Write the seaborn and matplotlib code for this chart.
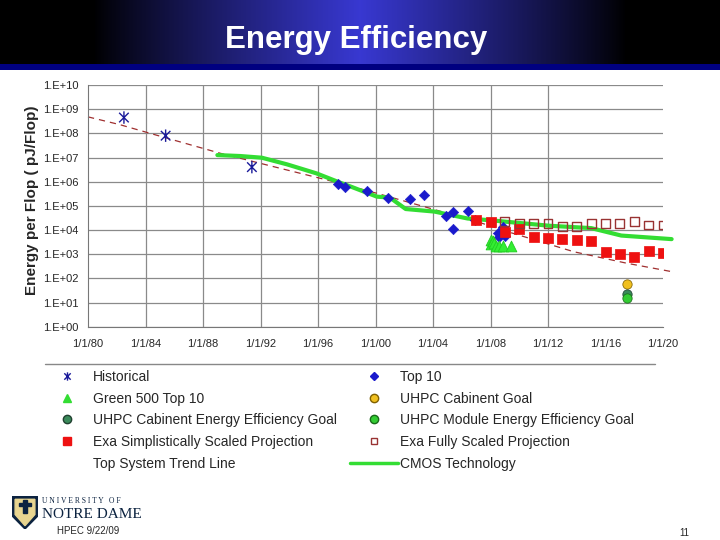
import numpy as np
import matplotlib.pyplot as plt
import seaborn as sns
from matplotlib.lines import Line2D
from matplotlib.patches import Polygon, Rectangle
from matplotlib.path import Path
from matplotlib.ticker import FixedLocator, FuncFormatter, NullLocator

# x axis ticks (dates as decimal years)
tick_years = [1980, 1984, 1988, 1992, 1996, 2000, 2004, 2008, 2012, 2016, 2020]
tick_labels = ["1/1/80", "1/1/84", "1/1/88", "1/1/92", "1/1/96", "1/1/00",
               "1/1/04", "1/1/08", "1/1/12", "1/1/16", "1/1/20"]

# energy per flop, pJ/Flop
hist_x = [1982.5, 1985.4, 1991.4]
hist_y = [4.5e8, 8.0e7, 4.0e6]

top10_x = [1997.4, 1997.9, 1999.4, 2000.9, 2002.4, 2003.4, 2004.9, 2005.4, 2005.4,
           2006.4, 2006.9, 2008.5, 2008.6, 2008.7, 2008.9, 2009.0]
top10_y = [7.8e5, 6.2e5, 4.1e5, 2.2e5, 1.9e5, 2.8e5, 3.8e4, 5.8e4, 1.1e4,
           6.3e4, 2.5e4, 7.2e3, 5.0e3, 8.5e3, 1.3e4, 5.8e3]

green500_x = [2008.0, 2008.0, 2008.2, 2008.25, 2008.4, 2008.6, 2008.9, 2009.45]
green500_y = [3.9e3, 2.6e3, 3.5e3, 2.8e3, 2.2e3, 2.2e3, 2.2e3, 2.2e3]

goal_x = [2017.5]
cab_goal_y = [59]
cab_ee_goal_y = [22]
module_goal_y = [15]

exa_simple_x = [2007, 2008, 2009, 2010, 2011, 2012, 2013, 2014, 2015, 2016, 2017, 2018, 2019, 2020]
exa_simple_y = [2.5e4, 2.2e4, 8.1e3, 1.1e4, 5.2e3, 4.8e3, 4.2e3, 3.9e3, 3.5e3,
                1.2e3, 1.0e3, 7.6e2, 1.35e3, 1.1e3]

exa_full_x = [2009, 2010, 2011, 2012, 2013, 2014, 2015, 2016, 2017, 2018, 2019, 2020]
exa_full_y = [2.2e4, 1.8e4, 1.8e4, 1.8e4, 1.4e4, 1.4e4, 1.9e4, 1.8e4, 1.8e4, 2.2e4, 1.6e4, 1.6e4]

trend_x = [1980.0, 1982.2, 1985.5, 1989.2, 1992.45, 1997.1, 2000.1, 2003.8,
           2007.3, 2009.2, 2013.8, 2017.5, 2020.6]
trend_y = [4.8e8, 2.3e8, 6.3e7, 1.5e7, 4.9e6, 1.0e6, 3.3e5, 7.9e4,
           2.0e4, 8.5e3, 1.26e3, 4.2e2, 1.9e2]

cmos_x = [1989.0, 1990.6, 1992.1, 1993.85, 1995.9, 1997.5, 1998.3, 2000.1, 2001.0,
          2002.1, 2004.1, 2006.4, 2008.1, 2012.1, 2015.0, 2017.1, 2020.6]
cmos_y = [1.26e7, 1.15e7, 9.8e6, 5.2e6, 2.2e6, 9.3e5, 6.2e5, 2.4e5, 2.2e5,
          7.4e4, 5.8e4, 3.0e4, 2.5e4, 1.5e4, 1.2e4, 5.9e3, 4.2e3]

sns.set_style("white")
plt.rcParams['font.family'] = ['Liberation Sans', 'DejaVu Sans']

# excel style asterisk: an X with a vertical bar
ast = Path([(-1, -1), (1, 1), (-1, 1), (1, -1), (0, -1.3), (0, 1.3)],
           [Path.MOVETO, Path.LINETO, Path.MOVETO, Path.LINETO, Path.MOVETO, Path.LINETO])

fig = plt.figure(figsize=(7.2, 5.4), dpi=100)

# title band
hdr = fig.add_axes([0, 1 - 64 / 540, 1, 64 / 540])
xs = np.linspace(0, 1, 720)
glow = np.clip(1 - np.abs(xs - 0.5) / 0.37, 0, 1) ** 0.9
band = np.zeros((2, 720, 3))
band[..., 0] = 0.22 * glow
band[..., 1] = 0.22 * glow
band[..., 2] = 0.82 * glow
hdr.imshow(band, aspect='auto', extent=[0, 1, 0, 1])
hdr.axis('off')
fig.add_artist(Rectangle((0, 1 - 70 / 540), 1, 6 / 540, transform=fig.transFigure,
                         color='#000080', lw=0))
fig.text(0.495, 1 - 40 / 540, "Energy Efficiency", color='white', fontsize=22.5,
         fontweight='bold', ha='center', va='center')

ax = fig.add_axes([88 / 720, 1 - 326.7 / 540, 575 / 720, 241.7 / 540])

sns.lineplot(x=trend_x, y=trend_y, ax=ax, color='#a03030', lw=0.9,
             linestyle=(0, (5, 4)), clip_on=False, zorder=2)
sns.lineplot(x=cmos_x, y=cmos_y, ax=ax, color='#33dd33', lw=3,
             clip_on=False, zorder=3)
sns.scatterplot(x=hist_x, y=hist_y, ax=ax, marker=ast, s=80, color='#1a1a9a',
                facecolor='none', edgecolor='#1a1a9a', linewidth=1, zorder=4)
sns.scatterplot(x=top10_x, y=top10_y, ax=ax, marker='D', s=28, color='#1a1acc',
                edgecolor='#1a1acc', zorder=4)
sns.scatterplot(x=green500_x, y=green500_y, ax=ax, marker='^', s=60, color='#33ee33',
                edgecolor='#22cc22', zorder=4)
sns.scatterplot(x=exa_simple_x, y=exa_simple_y, ax=ax, marker='s', s=42, color='#ee1111',
                edgecolor='#ee1111', zorder=5)
sns.scatterplot(x=exa_full_x, y=exa_full_y, ax=ax, marker='s', s=40, color='#993333',
                facecolor='none', edgecolor='#993333', linewidth=1, zorder=5)
sns.scatterplot(x=goal_x, y=cab_goal_y, ax=ax, s=45, color='#f0c020',
                edgecolor='#806000', zorder=5)
sns.scatterplot(x=goal_x, y=cab_ee_goal_y, ax=ax, s=45, color='#3a8a5a',
                edgecolor='#204030', zorder=5)
sns.scatterplot(x=goal_x, y=module_goal_y, ax=ax, s=45, color='#33cc33',
                edgecolor='#1a6a1a', zorder=6)

ax.set_yscale('log')
ax.set_ylim(1, 1e10)
ax.set_xlim(1980, 2020)
ax.yaxis.set_major_locator(FixedLocator([10.0 ** k for k in range(11)]))
ax.yaxis.set_minor_locator(NullLocator())
ax.yaxis.set_major_formatter(FuncFormatter(lambda v, p: f"1.E+{int(round(np.log10(v))):02d}"))
ax.set_xticks(tick_years, tick_labels)
ax.grid(True, color='#8a8a8a', lw=0.9)
for i, yr in enumerate(tick_years):
    if yr in (1980, 2016, 2020):
        ax.xaxis.get_gridlines()[i].set_visible(False)
for side in ('top', 'right'):
    ax.spines[side].set_visible(False)
for side in ('left', 'bottom'):
    ax.spines[side].set_color('#777777')
ax.tick_params(axis='both', length=3, color='#777777', labelsize=8, pad=4)
ax.tick_params(axis='x', pad=6)
ax.set_xlabel("")
ax.set_ylabel("")

fig.text(32 / 720, 1 - 200 / 540, "Energy per Flop ( pJ/Flop)", rotation=90,
         fontsize=11, fontweight='bold', ha='center', va='center')

# legend below the chart
fig.add_artist(Line2D([45 / 720, 655 / 720], [1 - 364 / 540] * 2, color='#888888', lw=1))
left_handles = [
    Line2D([], [], ls='none', marker=ast, ms=6, mec='#1a1a9a', mfc='none', mew=1),
    Line2D([], [], ls='none', marker='^', ms=6, color='#33dd33'),
    Line2D([], [], ls='none', marker='o', ms=6, mfc='#3a8a5a', mec='#204030'),
    Line2D([], [], ls='none', marker='s', ms=5.5, color='#ee1111'),
    Line2D([], [], color='none'),
]
left_labels = ["Historical", "Green 500 Top 10", "UHPC Cabinent Energy Efficiency Goal",
               "Exa Simplistically Scaled Projection", "Top System Trend Line"]
right_handles = [
    Line2D([], [], ls='none', marker='D', ms=4.5, color='#1a1acc'),
    Line2D([], [], ls='none', marker='o', ms=6, mfc='#f0c020', mec='#806000'),
    Line2D([], [], ls='none', marker='o', ms=6, mfc='#33cc33', mec='#1a6a1a'),
    Line2D([], [], ls='none', marker='s', ms=5, mfc='none', mec='#993333'),
    Line2D([], [], color='#33dd33', lw=2.5),
]
right_labels = ["Top 10", "UHPC Cabinent Goal", "UHPC Module Energy Efficiency Goal",
                "Exa Fully Scaled Projection", "CMOS Technology"]
for hs, ls, x0 in ((left_handles, left_labels, 43), (right_handles, right_labels, 350)):
    fig.legend(hs, ls, loc='upper left', bbox_to_anchor=(x0 / 720, 1 - 370 / 540),
               frameon=False, fontsize=10, handlelength=3.45, handletextpad=0.15,
               labelspacing=0.55, borderpad=0, borderaxespad=0)

# footer
shield = fig.add_axes([12 / 720, 1 - 529 / 540, 26 / 720, 33 / 540])
shield.add_patch(Polygon([(0, 1), (1, 1), (1, 0.4), (0.5, 0), (0, 0.4)], color='#0c2340'))
shield.add_patch(Polygon([(0.12, 0.9), (0.88, 0.9), (0.88, 0.44), (0.5, 0.1), (0.12, 0.44)],
                         color='#e8d590'))
shield.add_patch(Rectangle((0.44, 0.5), 0.12, 0.38, color='#0c2340'))
shield.add_patch(Rectangle((0.28, 0.7), 0.44, 0.08, color='#0c2340'))
shield.set_xlim(0, 1)
shield.set_ylim(0, 1)
shield.axis('off')
fig.text(42 / 720, 1 - 501 / 540, "U N I V E R S I T Y   O F", fontsize=5.5,
         family='Liberation Serif', color='#0c2340', va='center')
fig.text(42 / 720, 1 - 515 / 540, "NOTRE DAME", fontsize=11, family='Liberation Serif',
         color='#0c2340', va='center')
fig.text(57 / 720, 1 - 531 / 540, "HPEC 9/22/09", fontsize=7, va='center')
fig.text(684 / 720, 1 - 533 / 540, "11", fontsize=7, ha='center', va='center')

fig.savefig("out.png", dpi=100)
